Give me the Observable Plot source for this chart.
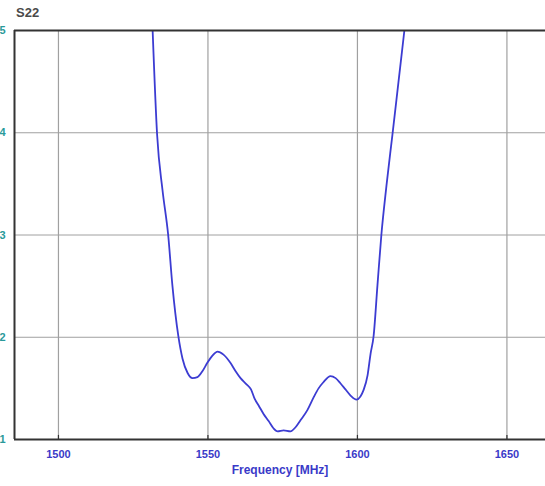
<!DOCTYPE html>
<html>
<head>
<meta charset="utf-8">
<script src="https://cdn.jsdelivr.net/npm/d3@7"></script>
<script src="https://cdn.jsdelivr.net/npm/@observablehq/plot@0.6"></script>
<style>
  html, body { margin: 0; padding: 0; background: #fff; overflow: hidden; }
  #wrap { position: relative; width: 545px; height: 486px; }
  #title { position: absolute; left: 16px; top: 5px; z-index: 2; font: bold 13px "Liberation Sans", Arial, sans-serif; color: #4a4a4a; }
</style>
</head>
<body>
<div id="wrap"><div id="title">S22</div></div>
<script>
const freq = [1531.5,1533.0,1534.8,1536.7,1538.1,1540.1,1541.5,1543.2,1544.8,1546.5,1548.2,1549.8,1551.5,1553.2,1555.2,1557.5,1559.2,1560.9,1562.9,1564.4,1565.6,1567.0,1568.6,1570.3,1571.9,1573.3,1575.3,1577.6,1579.3,1581.0,1583.3,1585.3,1587.0,1588.6,1591.0,1592.7,1594.3,1596.0,1597.7,1599.7,1601.0,1602.0,1603.4,1604.4,1605.4,1606.7,1608.0,1609.7,1611.7,1613.7,1615.7];
const vswr = [5.00,3.98,3.44,3.00,2.51,2.01,1.79,1.65,1.60,1.61,1.67,1.75,1.82,1.86,1.83,1.75,1.67,1.60,1.54,1.49,1.40,1.33,1.25,1.18,1.11,1.08,1.09,1.08,1.12,1.19,1.29,1.41,1.50,1.56,1.62,1.60,1.55,1.49,1.43,1.39,1.42,1.48,1.63,1.84,2.01,2.51,3.00,3.48,3.98,4.49,5.00];
const xTicks = [1500, 1550, 1600, 1650];
const yTicks = [1, 2, 3, 4, 5];

const data = freq.map((f, i) => ({f, v: vswr[i]}));
const font = '"Liberation Sans", Arial, sans-serif';

const chart = Plot.plot({
  width: 545,
  height: 486,
  marginTop: 30,
  marginBottom: 47,
  marginLeft: 14,
  marginRight: 0,
  style: {fontFamily: font, background: "transparent"},
  x: {domain: [1485.3, 1662.9]},
  y: {domain: [1, 5]},
  marks: [
    Plot.gridX(xTicks, {stroke: "#a0a0a0", strokeOpacity: 1, strokeWidth: 1.2}),
    Plot.gridY(yTicks, {stroke: "#a0a0a0", strokeOpacity: 1, strokeWidth: 1}),
    Plot.ruleX(xTicks, {x: d => d, y1: 1, y2: 1.04, stroke: "#333", strokeWidth: 1.2}),
    Plot.axisX(xTicks, {tickSize: 0, tickPadding: 11, fill: "#3a3ac8", fontSize: 11, fontWeight: "bold", label: "Frequency [MHz]", labelAnchor: "center", labelArrow: "none", labelOffset: 34, tickFormat: d => String(d)}),
    Plot.axisY(yTicks, {tickSize: 0, tickPadding: 9, fill: "#2a9a9a", fontSize: 11, fontWeight: "bold", label: null, tickFormat: d => String(d)}),
    Plot.line(data, {x: "f", y: "v", stroke: "#3c3cd2", strokeWidth: 1.8, curve: "monotone-x", clip: true}),
    Plot.ruleY([5], {stroke: "#333", strokeWidth: 2}),
    Plot.ruleY([1], {stroke: "#333", strokeWidth: 2}),
    Plot.ruleX([1485.3], {stroke: "#333", strokeWidth: 2})
  ]
});
chart.querySelectorAll('g[aria-label="x-axis label"] text').forEach(t => { t.setAttribute("fill", "#3a3ac8"); t.style.fontSize = "12px"; t.style.fontWeight = "bold"; });
chart.style.position = "absolute";
chart.style.left = "0";
chart.style.top = "0";
chart.style.zIndex = "1";
document.getElementById("wrap").appendChild(chart);
</script>
</body>
</html>
